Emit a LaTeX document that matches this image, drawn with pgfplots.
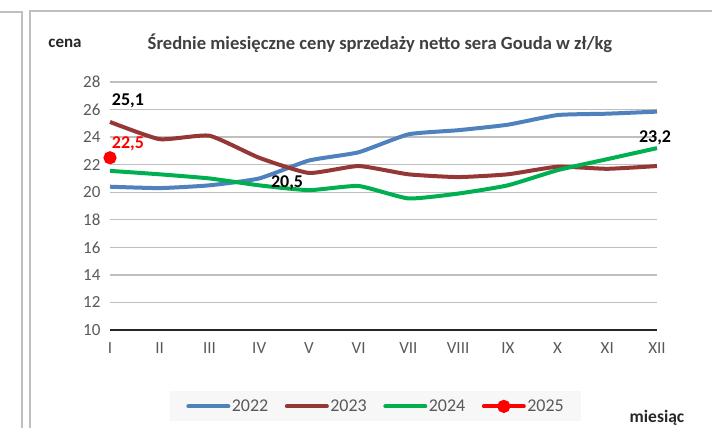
\documentclass[border=0pt]{standalone}
\usepackage{fontspec}
\setmainfont{Carlito}
\usepackage{pgfplots}
\pgfplotsset{compat=1.18}

\definecolor{c22}{HTML}{4F81BD}
\definecolor{c23}{HTML}{953735}
\definecolor{c24}{HTML}{00B050}
\definecolor{c25}{HTML}{FF0000}
\definecolor{tick}{HTML}{595959}
\definecolor{frame}{HTML}{BFBFBF}

\begin{document}
\begin{tikzpicture}
% 1pt = 1px of the reference, axis box lower-left at (0,0)
\useasboundingbox (-110pt,-98pt) rectangle (602pt,330pt);
\draw[frame, line width=1.2pt] (-110pt,318pt) -- (-88pt,318pt) -- (-88pt,-98pt);
\draw[frame, line width=1.2pt] (-80pt,-98pt) -- (-80pt,319pt) -- (602pt,319pt);
\node[font=\fontsize{17}{20}\selectfont\bfseries, text=black!85] at (-45pt,287pt) {cena};
\node[font=\fontsize{18.6}{21}\selectfont\bfseries, text=black!75] at (270pt,287pt)
  {Średnie miesięczne ceny sprzedaży netto sera Gouda w zł/kg};
\node[font=\fontsize{17.5}{20}\selectfont\bfseries, text=black!85] at (547pt,-88pt) {miesiąc};

\begin{axis}[
    at={(0,0)}, anchor=south west,
    scale only axis,
    width=547pt, height=248pt,
    xmin=1, xmax=12, ymin=10, ymax=28,
    enlargelimits=false,
    clip=false,
    axis line style={draw=none},
    xtick={1,...,12},
    xticklabels={I,II,III,IV,V,VI,VII,VIII,IX,X,XI,XII},
    ytick={10,12,...,28},
    major tick length=0pt,
    ymajorgrids,
    grid style={frame, line width=1.3pt},
    tick label style={font=\fontsize{17}{19}\selectfont, text=tick},
    xticklabel style={yshift=-9pt},
    yticklabel style={xshift=-6pt},
    /pgf/number format/assume math mode=true,
    every axis plot/.append style={line width=4pt, smooth, tension=0.3},
    legend columns=4,
    legend style={at={(0.486,-0.308)}, anchor=center, fill=black!3, draw=none,
        font=\fontsize{18}{20}\selectfont, text=tick,
        inner xsep=16pt, inner ysep=7pt,
        nodes={inner sep=1.5pt},
        /tikz/every even column/.append style={column sep=15pt}},
    legend image code/.code={
        \draw[mark repeat=2, mark phase=2, line cap=round, #1] plot coordinates {(0pt,0pt) (20pt,0pt) (40pt,0pt)};},
]
\addplot[c22] coordinates {(1,20.4) (2,20.3) (3,20.5) (4,21.0) (5,22.3) (6,22.9)
  (7,24.2) (8,24.5) (9,24.9) (10,25.6) (11,25.7) (12,25.85)};
\addplot[c23] coordinates {(1,25.1) (2,23.85) (3,24.1) (4,22.5) (5,21.4) (6,21.9)
  (7,21.3) (8,21.1) (9,21.3) (10,21.85) (11,21.7) (12,21.9)};
\addplot[c24] coordinates {(1,21.55) (2,21.3) (3,21.0) (4,20.5) (5,20.15) (6,20.45)
  (7,19.55) (8,19.9) (9,20.5) (10,21.6) (11,22.4) (12,23.2)};
\addplot[c25, mark=*, mark size=4.5pt, mark options={solid}] coordinates {(1,22.5)};
\legend{2022,2023,2024,2025}
\draw[line width=2.5pt, black!85] (axis cs:1,10) -- (axis cs:12,10);
\node[font=\fontsize{18}{20}\selectfont\bfseries] at (axis cs:1.36,26.6) {25,1};
\node[font=\fontsize{18}{20}\selectfont\bfseries, text=c25] at (axis cs:1.36,23.5) {22,5};
\node[font=\fontsize{18}{20}\selectfont\bfseries] at (axis cs:4.56,20.67) {20,5};
\node[font=\fontsize{18}{20}\selectfont\bfseries] at (axis cs:11.96,23.93) {23,2};
\end{axis}
\end{tikzpicture}
\end{document}
